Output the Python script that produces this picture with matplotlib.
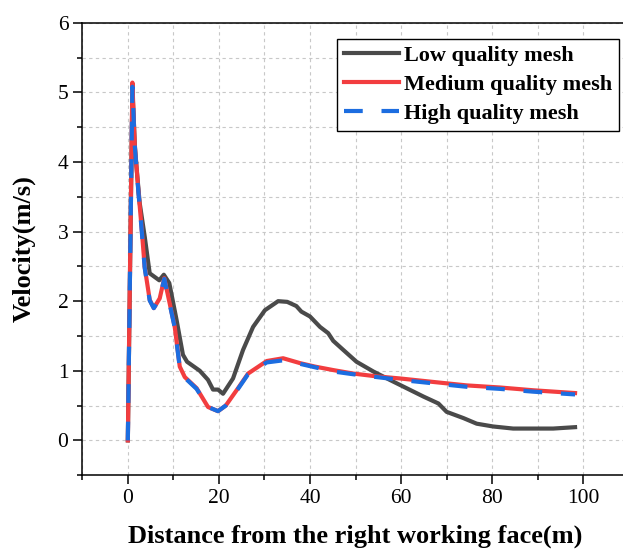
import numpy as np
import matplotlib
matplotlib.use("Agg")
import matplotlib.pyplot as plt
from matplotlib.ticker import MultipleLocator

plt.rcParams['font.family'] = 'Liberation Serif'
plt.rcParams['mathtext.fontset'] = 'stix'

# data
x_low = [0, 1.0, 1.6, 2.6, 3.7, 4.8, 6.9, 7.9, 9.1, 10.7, 12.1, 13.0, 15.8, 17.6,
         18.7, 19.8, 20.9, 23.1, 25.3, 27.5, 30.1, 33.0, 35.0, 37.0, 38.1, 40.0,
         42.2, 44.0, 45.1, 47.3, 50.2, 53.9, 57.5, 61.2, 64.9, 68.2, 70.0, 73.7,
         76.6, 80.2, 84.6, 89.0, 93.4, 98.2]
y_low = [0, 5.05, 4.15, 3.41, 2.93, 2.40, 2.30, 2.38, 2.26, 1.73, 1.23, 1.13, 1.00, 0.87,
         0.73, 0.73, 0.67, 0.89, 1.30, 1.63, 1.87, 2.00, 1.99, 1.93, 1.85, 1.78,
         1.63, 1.54, 1.43, 1.30, 1.13, 0.99, 0.87, 0.75, 0.63, 0.53, 0.41, 0.32,
         0.24, 0.20, 0.17, 0.17, 0.17, 0.19]

x_med = [0, 1.0, 1.5, 2.3, 3.0, 3.7, 4.8, 5.7, 7.0, 8.0, 10.3, 11.4, 12.5, 15.1,
         17.6, 19.8, 21.5, 24.2, 26.4, 30.5, 34.1, 37.8, 41.1, 45.1, 49.5, 54.6,
         59.7, 67.0, 74.4, 81.7, 89.0, 98.2]
y_med = [0, 5.14, 4.27, 3.60, 3.07, 2.49, 2.02, 1.90, 2.04, 2.33, 1.63, 1.06, 0.91, 0.75,
         0.48, 0.42, 0.50, 0.75, 0.96, 1.14, 1.18, 1.11, 1.06, 1.01, 0.96, 0.92,
         0.89, 0.84, 0.79, 0.76, 0.72, 0.68]

x_high = [0, 1.0, 1.5, 2.3, 3.0, 3.7, 4.8, 5.7, 7.0, 8.0, 10.3, 11.4, 12.5, 15.1,
          17.6, 19.8, 21.5, 24.2, 26.4, 30.5, 34.1, 37.8, 41.1, 45.1, 49.5, 54.6,
          59.7, 67.0, 74.4, 81.7, 89.0, 98.2]
y_high = [0, 5.08, 4.25, 3.58, 3.05, 2.48, 2.01, 1.90, 2.04, 2.32, 1.62, 1.05, 0.90, 0.74,
          0.48, 0.42, 0.50, 0.74, 0.95, 1.12, 1.15, 1.10, 1.05, 0.99, 0.95, 0.91,
          0.87, 0.82, 0.77, 0.74, 0.70, 0.66]

labels = ['Low quality mesh', 'Medium quality mesh', 'High quality mesh']

fig = plt.figure(figsize=(6.23, 5.5), dpi=100)
ax = fig.add_axes([0.1321, 0.136, 0.8772, 0.8227])

ax.plot(x_low, y_low, color='#4a4a4a', lw=3, label=labels[0], zorder=3)
ax.plot(x_med, y_med, color='#f23d3f', lw=3, label=labels[1], zorder=4)
ax.plot(x_high, y_high, color='#1c6de0', lw=3, dashes=(4.5, 4.5), label=labels[2], zorder=5)

ax.set_xlim(-10, 110)
ax.set_ylim(-0.5, 6)
ax.xaxis.set_major_locator(MultipleLocator(20))
ax.xaxis.set_minor_locator(MultipleLocator(10))
ax.yaxis.set_major_locator(MultipleLocator(1))
ax.yaxis.set_minor_locator(MultipleLocator(0.5))
ax.grid(True, which='both', color='#c8c8c8', lw=0.8, dashes=(3, 3))
ax.set_axisbelow(True)

ax.tick_params(which='major', direction='out', length=6.5, width=1.1, labelsize=15.5)
ax.tick_params(which='minor', direction='out', length=3.5, width=1.1)
ax.tick_params(top=False, right=False, which='both')
for s in ax.spines.values():
    s.set_linewidth(1.1)

ax.set_xlabel('Distance from the right working face(m)', fontsize=19, fontweight='bold', labelpad=12)
ax.set_ylabel('Velocity(m/s)', fontsize=19, fontweight='bold', labelpad=16)

leg = ax.legend(loc='upper left', bbox_to_anchor=(0.466, 0.964), prop={'weight': 'bold', 'size': 16},
                frameon=True, fancybox=False, edgecolor='black', framealpha=1,
                handlelength=2.5, handletextpad=0.23, borderpad=0.3, labelspacing=0.38,
                borderaxespad=0)
leg.get_frame().set_linewidth(1.0)

fig.savefig('out.png', dpi=100)
